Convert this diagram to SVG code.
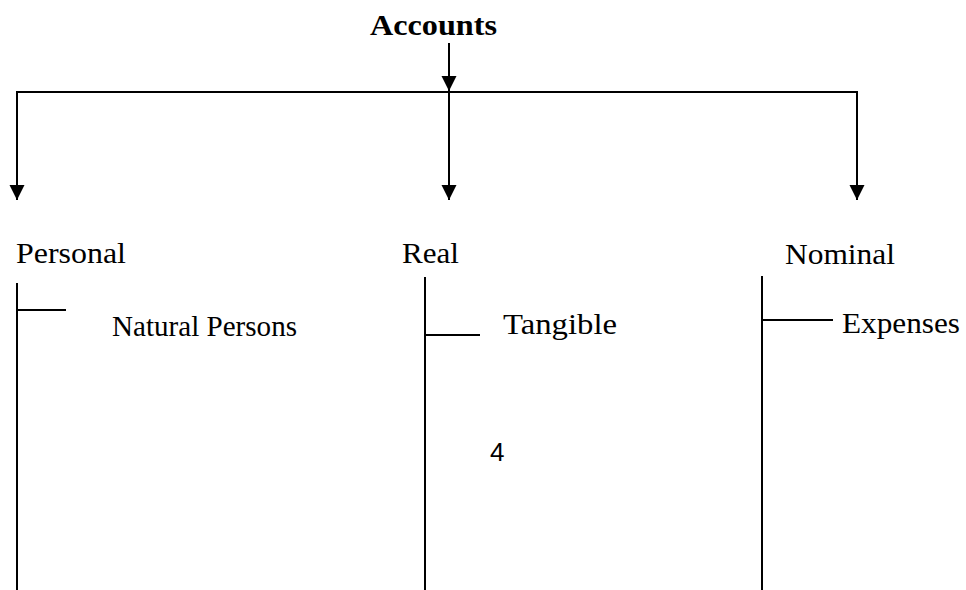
<svg xmlns="http://www.w3.org/2000/svg" width="966" height="590" viewBox="0 0 966 590">
<style>
.ln{stroke:#000;stroke-width:2;fill:none}
.t{font-family:"Liberation Serif","Times New Roman",serif;font-size:29px;fill:#000}
.b{font-weight:bold}
.s{font-family:"Liberation Sans",Arial,sans-serif;font-size:26px;fill:#000}
</style>
<defs>
<marker id="ah" markerUnits="userSpaceOnUse" markerWidth="16" markerHeight="16" refX="15" refY="7.5" orient="auto">
<path d="M0,0 L15,7.5 L0,15 z" fill="#000"/>
</marker>
</defs>
<rect width="966" height="590" fill="#fff"/>
<g id="connectors">
<line class="ln" x1="449" y1="43" x2="449" y2="91" marker-end="url(#ah)"/>
<polyline class="ln" points="17,199 17,92 857,92 857,199"/>
<line class="ln" x1="17" y1="150" x2="17" y2="200" marker-end="url(#ah)"/>
<line class="ln" x1="449" y1="92" x2="449" y2="200" marker-end="url(#ah)"/>
<line class="ln" x1="857" y1="150" x2="857" y2="200" marker-end="url(#ah)"/>
</g>
<g id="accounts">
<text class="t b" x="370" y="35" textLength="127" lengthAdjust="spacingAndGlyphs">Accounts</text>
</g>
<g id="personal">
<text class="t" x="16" y="263" textLength="110" lengthAdjust="spacingAndGlyphs">Personal</text>
<line class="ln" x1="17" y1="283" x2="17" y2="590"/>
<line class="ln" x1="17" y1="310" x2="66" y2="310"/>
</g>
<g id="natural-persons">
<text class="t" x="112" y="336" textLength="185" lengthAdjust="spacingAndGlyphs">Natural Persons</text>
</g>
<g id="real">
<text class="t" x="402" y="263" textLength="57" lengthAdjust="spacingAndGlyphs">Real</text>
<line class="ln" x1="425" y1="277" x2="425" y2="590"/>
<line class="ln" x1="425" y1="335" x2="480" y2="335"/>
</g>
<g id="tangible">
<text class="t" x="503" y="334" textLength="114" lengthAdjust="spacingAndGlyphs">Tangible</text>
</g>
<g id="nominal">
<text class="t" x="785" y="264" textLength="110" lengthAdjust="spacingAndGlyphs">Nominal</text>
<line class="ln" x1="762" y1="276" x2="762" y2="590"/>
<line class="ln" x1="762" y1="320" x2="833" y2="320"/>
</g>
<g id="expenses">
<text class="t" x="842" y="333" textLength="118" lengthAdjust="spacingAndGlyphs">Expenses</text>
</g>
<g id="page-number">
<text class="s" x="490" y="461">4</text>
</g>
</svg>
